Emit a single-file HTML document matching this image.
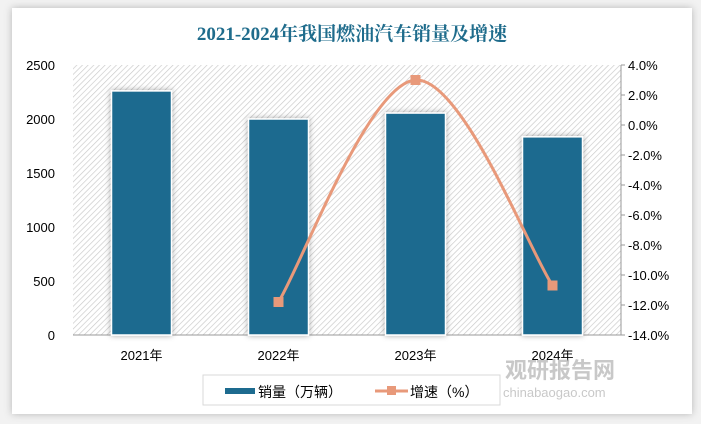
<!DOCTYPE html>
<html><head><meta charset="utf-8"><style>
body{margin:0;background:#fff;width:701px;height:424px;overflow:hidden;font-family:"Liberation Sans","Noto Sans CJK SC",sans-serif}
</style></head><body>
<svg width="701" height="424" xmlns="http://www.w3.org/2000/svg">
<defs>
<pattern id="hatch" width="4" height="4" patternUnits="userSpaceOnUse" patternTransform="rotate(45)">
<rect width="4" height="4" fill="#fff"/><line x1="0" y1="0" x2="0" y2="4" stroke="#c8c8c8" stroke-width="1.3"/></pattern>
<filter id="sh" x="-20%" y="-20%" width="140%" height="140%"><feDropShadow dx="0" dy="0" stdDeviation="3" flood-color="#000" flood-opacity="0.35"/></filter>
<filter id="sh2" x="-5%" y="-5%" width="110%" height="110%"><feDropShadow dx="0" dy="0" stdDeviation="4" flood-color="#000" flood-opacity="0.25"/></filter>
</defs>
<rect x="0" y="0" width="701" height="424" fill="#f2f2f2"/>
<rect x="12" y="8" width="680" height="406" fill="#fff" filter="url(#sh2)"/>
<text x="352" y="40" text-anchor="middle" font-family="'Liberation Serif','Noto Serif CJK SC',serif" font-weight="bold" font-size="19" fill="#1f6c8c">2021-2024年我国燃油汽车销量及增速</text>
<rect x="73" y="65" width="548" height="270" fill="url(#hatch)"/>
<g id="g"></g>
<rect x="203" y="375" width="297" height="30" fill="#fff" stroke="#d9d9d9"/>
<rect x="225" y="388" width="30" height="6" fill="#1d6b8f"/>
<text x="258" y="397" font-size="14" fill="#000">销量（万辆）</text>
<line x1="375" y1="391" x2="408" y2="391" stroke="#e8997a" stroke-width="3"/>
<rect x="387" y="386" width="9" height="9" fill="#e8997a"/>
<text x="410" y="397" font-size="14" fill="#000">增速（%）</text>
<text x="505" y="378" font-size="22" font-weight="bold" fill="#bbb" opacity="0.8">观研报告网</text>
<text x="503" y="397" font-size="13" fill="#bbb" opacity="0.8">chinabaogao.com</text>
</svg>
<script>
const categories=["2021年","2022年","2023年","2024年"];
const sales=[2260,2000,2055,1835];
const growth=[null,-11.8,3.0,-10.7];
const leftTicks=[0,500,1000,1500,2000,2500];
const rightTicks=[4,2,0,-2,-4,-6,-8,-10,-12,-14];
const NS="http://www.w3.org/2000/svg";
const g=document.getElementById('g');
const X0=73,X1=621,Y0=65,Y1=335;
const yL=v=>Y1-(v/2500)*(Y1-Y0);
const yR=v=>Y0+(4-v)/18*(Y1-Y0);
const bw=(X1-X0)/categories.length;
const xc=i=>X0+bw*(i+0.5);
function mk(t,a){const e=document.createElementNS(NS,t);for(const k in a)e.setAttribute(k,a[k]);g.appendChild(e);return e;}
leftTicks.forEach(v=>{const t=mk('text',{x:55,y:yL(v)+5,'text-anchor':'end','font-size':13,fill:'#000'});t.textContent=v;

});
mk('line',{x1:X1,y1:Y0,x2:X1,y2:Y1,stroke:'#999'});
rightTicks.forEach(v=>{const y=yR(v);mk('line',{x1:X1,y1:y,x2:X1+4,y2:y,stroke:'#999'});
const t=mk('text',{x:X1+7,y:y+5,'font-size':13,fill:'#000'});t.textContent=v.toFixed(1)+'%';

});
mk('line',{x1:X0,y1:Y1,x2:X1,y2:Y1,stroke:'#999'});
categories.forEach((c,i)=>{
const r=mk('rect',{x:xc(i)-30,y:yL(sales[i]),width:60,height:Y1-yL(sales[i]),fill:'#1d6b8f',stroke:'#fff','stroke-width':1.5,filter:'url(#sh)'});


const t=mk('text',{x:xc(i),y:360,'text-anchor':'middle','font-size':13,fill:'#000'});t.textContent=c;


});
const pts=[];growth.forEach((v,i)=>{if(v!==null)pts.push([xc(i),yR(v)]);});
let d='M'+pts[0][0]+','+pts[0][1];
for(let i=0;i<pts.length-1;i++){const p0=pts[i-1]||pts[i],p1=pts[i],p2=pts[i+1],p3=pts[i+2]||p2;const s=0.17;
d+=' C'+(p1[0]+(p2[0]-p0[0])*s)+','+(p1[1]+(p2[1]-p0[1])*s)+' '+(p2[0]-(p3[0]-p1[0])*s)+','+(p2[1]-(p3[1]-p1[1])*s)+' '+p2[0]+','+p2[1];}
const ln=mk('path',{d:d,fill:'none',stroke:'#e8997a','stroke-width':3});


pts.forEach(p=>{const m=mk('rect',{x:p[0]-5,y:p[1]-5,width:10,height:10,fill:'#e8997a'});

});
</script>
</body></html>
